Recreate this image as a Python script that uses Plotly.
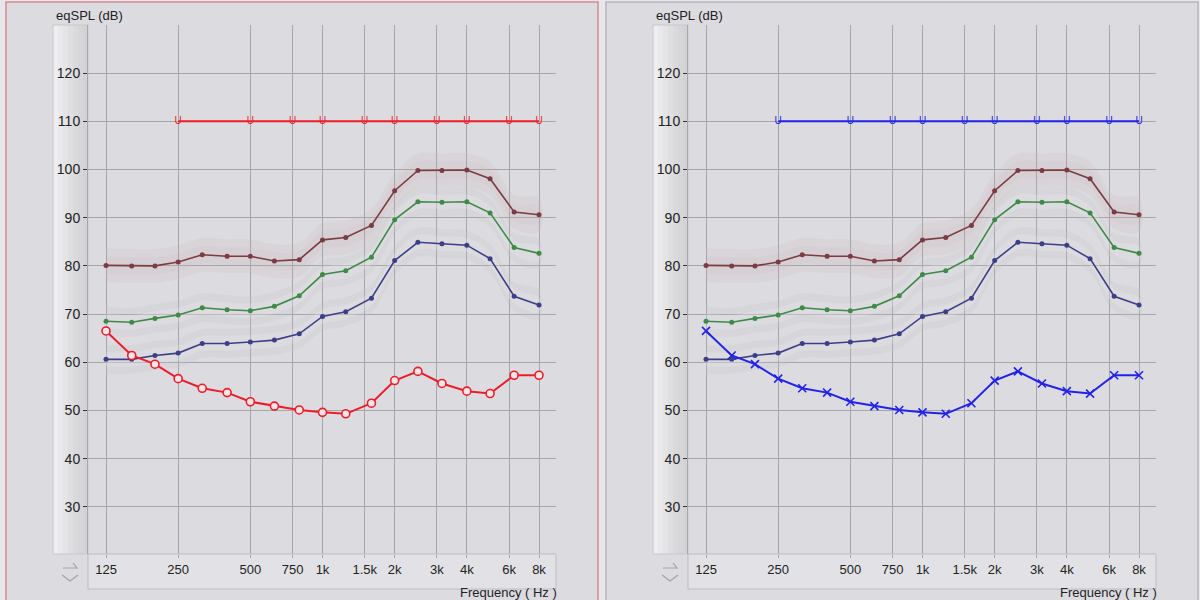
import plotly.graph_objects as go

# --- data -------------------------------------------------------------
FREQS = [125, 160, 200, 250, 315, 400, 500, 630, 800, 1000, 1250, 1600,
         2000, 2500, 3150, 4000, 5000, 6300, 8000]

UCL = [80.1, 80.0, 80.0, 80.8, 82.3, 82.0, 82.0, 81.0, 81.3, 85.4, 85.9, 88.4,
       95.6, 99.8, 99.8, 99.9, 98.1, 91.2, 90.6]
MCL = [68.5, 68.3, 69.1, 69.8, 71.3, 70.9, 70.7, 71.6, 73.8, 78.2, 79.0, 81.8,
       89.6, 93.3, 93.2, 93.3, 91.0, 83.8, 82.6]
THR = [60.6, 60.6, 61.4, 61.9, 63.9, 63.9, 64.2, 64.6, 65.9, 69.5, 70.5, 73.3,
       81.1, 84.9, 84.6, 84.3, 81.5, 73.7, 71.9]
MEAS = [66.5, 61.4, 59.6, 56.6, 54.6, 53.7, 51.8, 50.9, 50.1, 49.6, 49.3, 51.5,
        56.2, 58.1, 55.6, 54.0, 53.5, 57.3, 57.3]

LIMIT_FREQS = [250, 500, 750, 1000, 1500, 2000, 3000, 4000, 6000, 8000]
LIMIT_DB = [110] * len(LIMIT_FREQS)

TICK_VALS = [125, 250, 500, 750, 1000, 1500, 2000, 3000, 4000, 6000, 8000]
TICK_TEXT = ["125", "250", "500", "750", "1k", "1.5k", "2k", "3k", "4k", "6k", "8k"]
Y_TICKS = [30, 40, 50, 60, 70, 80, 90, 100, 110, 120]

COLORS = {
    "ucl":    "#7b3b43",
    "mcl":    "#3f8a47",
    "thr":    "#3d3f86",
    "left":   "#ec1c2a",
    "right":  "#2222e8",
    "bg":     "#dcdce0",
    "paper":  "#e7e7eb",
    "grid":   "#a6a6aa",
    "text":   "#222222",
}

W, H = 1200, 600


def px(x):
    return x / W


def py(y):
    return 1 - y / H


fig = go.Figure()
shapes = []
annotations = []


def rect(x0, y0, x1, y1, fill, line="rgba(0,0,0,0)", width=0):
    shapes.append(dict(type="rect", xref="paper", yref="paper",
                       x0=px(x0), x1=px(x1), y0=py(y1), y1=py(y0),
                       fillcolor=fill, line=dict(color=line, width=width),
                       layer="below"))


def polyline(points, color):
    d = "M " + " L ".join(f"{px(x)},{py(y)}" for x, y in points)
    shapes.append(dict(type="path", xref="paper", yref="paper", path=d,
                       line=dict(color=color, width=1.2)))


def panel(off, border, xa, ya, line_color, marker):
    # frame and decorations
    rect(off + 6, 2, off + 598, 602, COLORS["bg"], border, 1.5)
    grad = ["#eeeef1", "#e9e9ec", "#e4e4e7", "#dfdfe2", "#dadadd", "#d6d6d9", "#d3d3d6"]
    for i, c in enumerate(grad):
        rect(off + 53 + i * 5, 25, off + 58 + i * 5, 554, c)
    rect(off + 53, 25, off + 88, 554, "rgba(0,0,0,0)", "#c8c8cc", 1)
    rect(off + 88, 554, off + 556, 589, "#e2e2e6", "#bdbdc1", 1)
    polyline([(off + 63, 568), (off + 77, 568), (off + 73, 563)], "#a4a4a8")
    polyline([(off + 62, 575), (off + 70, 581), (off + 78, 575)], "#a4a4a8")
    annotations.append(dict(text="eqSPL (dB)", xref="paper", yref="paper",
                            x=px(off + 54), y=py(16), xanchor="left", yanchor="middle",
                            showarrow=False, font=dict(size=13, color=COLORS["text"])))
    annotations.append(dict(text="Frequency ( Hz )", xref="paper", yref="paper",
                            x=px(off + 559), y=py(592), xanchor="right", yanchor="middle",
                            showarrow=False, font=dict(size=13, color=COLORS["text"])))

    # shaded bands around the reference curves
    bands = [(UCL, "rgba(200,165,170,0.14)", 3.5), (UCL, "rgba(200,165,170,0.10)", 1.8),
             (MCL, "rgba(190,190,195,0.20)", 3.0), (MCL, "rgba(240,240,244,0.22)", 1.5),
             (THR, "rgba(190,190,195,0.20)", 3.0), (THR, "rgba(240,240,244,0.22)", 1.5)]
    for vals, col, w in bands:
        fig.add_trace(go.Scatter(
            x=FREQS + FREQS[::-1],
            y=[v + w for v in vals] + [v - w for v in vals[::-1]],
            fill="toself", fillcolor=col, line=dict(width=0, shape="spline"),
            mode="lines", hoverinfo="skip", showlegend=False, xaxis=xa, yaxis=ya,
        ))

    for vals, key in [(UCL, "ucl"), (MCL, "mcl"), (THR, "thr")]:
        fig.add_trace(go.Scatter(
            x=FREQS, y=vals, mode="lines+markers", showlegend=False,
            line=dict(color=COLORS[key], width=1.6),
            marker=dict(size=5, color=COLORS[key]),
            xaxis=xa, yaxis=ya,
        ))

    fig.add_trace(go.Scatter(
        x=LIMIT_FREQS, y=LIMIT_DB, mode="lines+text", text=["U"] * len(LIMIT_FREQS),
        textposition="middle center", textfont=dict(size=10, color=line_color),
        line=dict(color=line_color, width=2), showlegend=False,
        xaxis=xa, yaxis=ya,
    ))

    fig.add_trace(go.Scatter(
        x=FREQS, y=MEAS, mode="lines+markers", showlegend=False,
        line=dict(color=line_color, width=2), marker=marker,
        xaxis=xa, yaxis=ya,
    ))


panel(0, "#d48a92", "x", "y", COLORS["left"],
      dict(symbol="circle", size=8, color="#f6e6ea",
           line=dict(color=COLORS["left"], width=1.6)))
panel(600, "#b6b6ba", "x2", "y2", COLORS["right"],
      dict(symbol="x-thin-open", size=8, color=COLORS["right"],
           line=dict(color=COLORS["right"], width=1.6)))

xaxis_base = dict(
    type="log", range=[2.0218, 3.974], tickvals=TICK_VALS, ticktext=TICK_TEXT,
    showgrid=True, gridcolor=COLORS["grid"], gridwidth=1, zeroline=False,
    ticks="outside", ticklen=3, tickcolor=COLORS["grid"],
    tickfont=dict(size=13, color=COLORS["text"], family="Liberation Sans"),
    showline=False, fixedrange=True,
)
yaxis_base = dict(
    range=[20.2, 130], tickvals=Y_TICKS, showgrid=True, gridcolor=COLORS["grid"],
    gridwidth=1, zeroline=False, ticks="outside", ticklen=4, tickcolor="#333333",
    tickfont=dict(size=14, color=COLORS["text"], family="Liberation Sans"),
    showline=True, linecolor=COLORS["grid"], linewidth=1,
    domain=[py(554), py(25)], fixedrange=True,
)

fig.update_layout(
    width=W, height=H,
    margin=dict(l=0, r=0, t=0, b=0),
    paper_bgcolor=COLORS["paper"],
    plot_bgcolor="rgba(0,0,0,0)",
    font=dict(family="Liberation Sans", color=COLORS["text"]),
    xaxis={**xaxis_base, "domain": [px(88), px(556)], "anchor": "y"},
    yaxis={**yaxis_base, "anchor": "x"},
    xaxis2={**xaxis_base, "domain": [px(688), px(1156)], "anchor": "y2"},
    yaxis2={**yaxis_base, "anchor": "x2"},
    shapes=shapes,
    annotations=annotations,
    showlegend=False,
)

fig.write_html("out.html", config={"displayModeBar": False},
               post_script="document.body.style.margin='0';")
